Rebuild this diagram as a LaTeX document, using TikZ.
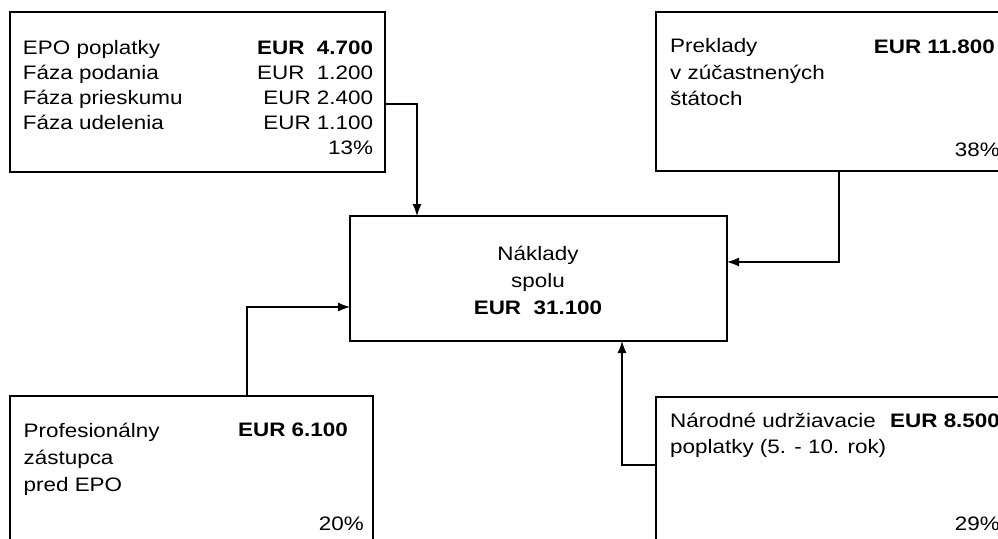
\documentclass[tikz,border=0pt]{standalone}
\usepackage{fontspec}
\setmainfont{Liberation Sans}[FakeStretch=1.15]
\usetikzlibrary{arrows.meta}

\tikzset{
  box/.style={draw, line width=1.2pt, rectangle, anchor=north west, inner sep=0pt, outer sep=0pt},
  txt/.style={inner sep=0pt, font=\fontsize{19.5}{26.5}\selectfont},
  link/.style={line width=1.2pt, -{Latex[length=12pt,width=9pt]}},
}

\begin{document}
\begin{tikzpicture}[x=1pt,y=-1pt]
    \useasboundingbox (0,0) rectangle (998,538);
    \clip (0,0) rectangle (998,538);% boxes on the right run off the page
    % the five boxes
    \node[box, minimum width=375pt, minimum height=160pt] (epo) at (10,12) {};
    \node[box, minimum width=360pt, minimum height=159pt] (preklady) at (656,12) {};
    \node[box, minimum width=377pt, minimum height=125pt] (naklady) at (350,216) {};
    \node[box, minimum width=363pt, minimum height=160pt] (zastupca) at (10,396) {};
    \node[box, minimum width=360pt, minimum height=160pt] (narodne) at (656,397) {};
    % texts (base = baseline of the last line)
    \node[txt, font=\fontsize{19.5}{25}\selectfont, anchor=base west, align=left] (epoL) at (22.8,129.5)
        {EPO poplatky\\Fáza podania\\Fáza prieskumu\\Fáza udelenia};
    \node[txt, font=\fontsize{19.5}{25}\selectfont, anchor=base east, align=right] (epoR) at (373.3,154.5)
        {\textbf{EUR~~4.700}\\EUR~~1.200\\EUR 2.400\\EUR 1.100\\13\%};
    \node[txt, anchor=base west, align=left] (prekladyL) at (670,105.5)
        {Preklady\\v zúčastnených\\štátoch};
    \node[txt, anchor=base east] (prekladyR) at (995,53) {\textbf{EUR 11.800}};
    \node[txt, anchor=base east] (prekladyP) at (1000,156.7) {38\%};
    \node[txt, font=\fontsize{19.5}{27}\selectfont, anchor=base, align=center] (nakladyT) at (538,314)
        {Náklady\\spolu\\\textbf{EUR~~31.100}};
    \node[txt, font=\fontsize{19.5}{27}\selectfont, anchor=base west, align=left] (zastupcaL) at (23.5,491)
        {Profesionálny\\zástupca\\pred EPO};
    \node[txt, anchor=base east] (zastupcaR) at (348,436) {\textbf{EUR 6.100}};
    \node[txt, anchor=base east] (zastupcaP) at (364,530) {20\%};
    \node[txt, font=\fontsize{19.5}{26}\selectfont, anchor=base west, align=left] (narodneL) at (670,453)
        {Národné udržiavacie\\poplatky (5. - 10. rok)};
    \node[txt, anchor=base west] (narodneR) at (890,427) {\textbf{EUR 8.500}};
    \node[txt, anchor=base east] (narodneP) at (1000,530) {29\%};
    % connectors into the total
    \draw[link] ([yshift=-12pt]epo.east) -| ([xshift=67pt]naklady.north west);
    \draw[link] ([xshift=183pt]preklady.south west) |- ([yshift=16.5pt]naklady.east);
    \draw[link] ([xshift=237pt]zastupca.north west) |- ([yshift=-28.5pt]naklady.west);
    \draw[link] ([yshift=-68pt]narodne.north west) -| ([xshift=272pt]naklady.south west);
\end{tikzpicture}
\end{document}
